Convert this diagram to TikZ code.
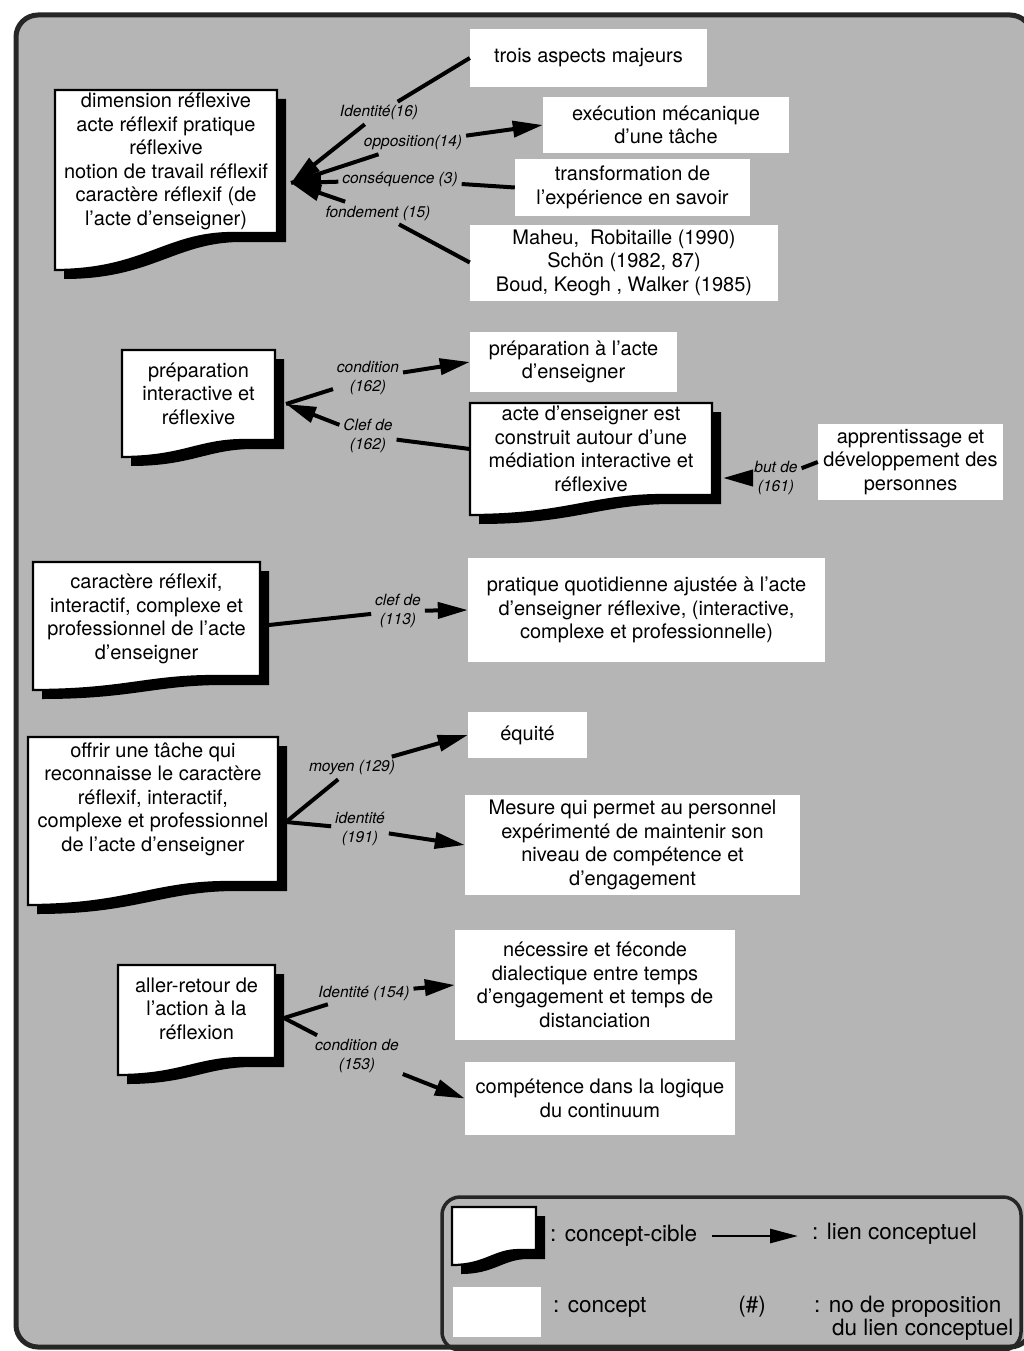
\documentclass[tikz,border=0pt]{standalone}
\usepackage{fontspec}
\setmainfont{TeX Gyre Heros}[Ligatures=ResetAll]
\usetikzlibrary{arrows.meta,calc}
\definecolor{bg}{gray}{0.71}
\newcommand\mainsz{\fontsize{20}{23.5}\selectfont}
\newcommand\labsz{\fontsize{15.5}{19}\selectfont}
\newcommand\legsz{\fontsize{22.5}{25}\selectfont}
% concept-cible shape: x0, y0, x1, y (right bottom, wave top), y (left bottom)
\newcommand\cibleshape[5]{%
  \fill[black,shift={(9,9)}] (#1,#2) -- (#3,#2) -- (#3,#4) -- ({#1+0.8*(#3-#1)},#4)
     .. controls ({#1+0.5*(#3-#1)},#4) and ({#1+0.4*(#3-#1)},#5) .. (#1,#5) -- cycle;
  \filldraw[fill=white,draw=black,line width=2.2pt] (#1,#2) -- (#3,#2) -- (#3,#4) -- ({#1+0.8*(#3-#1)},#4)
     .. controls ({#1+0.5*(#3-#1)},#4) and ({#1+0.4*(#3-#1)},#5) .. (#1,#5) -- cycle;
}
\begin{document}
\begin{tikzpicture}[x=1pt,y=-1pt,
  concept/.style={fill=white, inner sep=0pt, align=center, font=\mainsz},
  ctext/.style={inner sep=0pt, align=center, font=\mainsz},
  lab/.style={inner sep=1pt, outer sep=3pt, align=center, font=\labsz\itshape},
  leg/.style={inner sep=0pt, font=\legsz},
  lnk/.style={line width=4pt},
  arr/.style={lnk, -{Triangle[length=30pt,width=16pt]}},
  legarr/.style={line width=2.8pt, -{Triangle[length=28pt,width=14pt]}},
  sz/.style 2 args={minimum width=#1pt, minimum height=#2pt}]
\useasboundingbox (0,0) rectangle (1023,1351);
\fill[white] (0,0) rectangle (1023,1351);
% outer frame
\draw[fill=bg, line width=5pt, draw=black!85, rounded corners=22pt] (16,15) rectangle (1032,1347);

% ---------- section 1 ----------
\cibleshape{55}{90}{277}{233}{270}
\node[ctext, sz={222}{143}] (c1) at (166,161.5) {dimension réflexive\\acte réflexif pratique\\réflexive\\notion de travail réflexif\\caractère réflexif (de\\l'acte d'enseigner)};
\coordinate (c1p) at (291,183);
\node[concept, sz={237}{58}] (t1) at (588.5,58) {trois aspects majeurs};
\node[concept, sz={246}{56}] (t2) at (666,125) {exécution mécanique\\d'une tâche};
\node[concept, sz={235}{56}] (t3) at (632.5,187.5) {transformation de\\l'expérience en savoir};
\node[concept, sz={308}{76}] (t4) at (624,262.5) {Maheu,~ Robitaille (1990)\\Schön (1982, 87)\\Boud, Keogh , Walker (1985)};
\node[lab] (l1) at (379,113) {Identité(16)};
\node[lab] (l2) at (413,143) {opposition(14)};
\node[lab] (l3) at (400,180) {conséquence (3)};
\node[lab] (l4) at (378,213) {fondement (15)};
\draw[lnk] (t1.west) -- (l1); \draw[arr] (l1) -- (c1p);
\draw[lnk] (c1p) -- (l2); \draw[arr] (l2) -- (t2.west);
\draw[lnk] (t3.west) -- (l3); \draw[arr] (l3) -- (c1p);
\draw[lnk] (t4.west) -- (l4); \draw[arr] (l4) -- (c1p);

% ---------- section 2 ----------
\cibleshape{122}{350}{275}{440}{457}
\node[ctext, sz={153}{87}] (c2) at (198.5,393.5) {préparation\\interactive et\\réflexive};
\coordinate (c2p) at (286,404);
\cibleshape{470}{403}{712}{495}{515}
\node[ctext, sz={242}{92}] (c3) at (591,449) {acte d'enseigner est\\construit autour d'une\\médiation interactive et\\réflexive};
\coordinate (c3p) at (723,478);
\node[concept, sz={207}{60}] (t5) at (573.5,362) {préparation à l'acte\\d'enseigner};
\node[concept, sz={185}{76}] (t6) at (910.5,462) {apprentissage et\\développement des\\personnes};
\node[lab] (l5) at (368,378) {condition\\(162)};
\node[lab] (l6) at (368,436) {Clef de\\(162)};
\node[lab] (l7) at (776,478) {but de\\(161)};
\draw[lnk] (c2p) -- (l5); \draw[arr] (l5) -- (t5.west);
\draw[lnk] (c3.west) -- (l6); \draw[arr] (l6) -- (c2p);
\draw[lnk] (t6.west) -- (l7); \draw[arr] (l7) -- (c3p);

% ---------- section 3 ----------
\cibleshape{33}{562}{260}{676}{690}
\node[ctext, sz={227}{114}] (c4) at (146.5,619) {caractère réflexif,\\interactif, complexe et\\professionnel de l'acte\\d'enseigner};
\coordinate (c4p) at (269,625);
\node[concept, sz={357}{104}] (t7) at (646.5,610) {pratique quotidienne ajustée à l'acte\\d'enseigner réflexive, (interactive,\\complexe et professionnelle)};
\node[lab] (l8) at (398,611) {clef de\\(113)};
\draw[lnk] (c4p) -- (l8); \draw[arr] (l8) -- (t7.west);

% ---------- section 4 ----------
\cibleshape{28}{737}{278}{882}{905}
\node[ctext, sz={250}{124}] (c5) at (153,799) {offrir une tâche qui\\reconnaisse le caractère\\réflexif, interactif,\\complexe et professionnel\\de l'acte d'enseigner};
\coordinate (c5p) at (286,822);
\node[concept, sz={119}{46}] (t8) at (527.5,735) {équité};
\node[concept, sz={335}{100}] (t9) at (632.5,845) {Mesure qui permet au personnel\\expérimenté de maintenir son\\niveau de compétence et\\d'engagement};
\node[lab] (l9) at (352,768) {moyen (129)};
\node[lab] (l10) at (360,829) {identité\\(191)};
\draw[lnk] (c5p) -- (l9); \draw[arr] (l9) -- (t8.west);
\draw[lnk] (c5p) -- (l10); \draw[arr] (l10) -- (t9.west);

% ---------- section 5 ----------
\cibleshape{118}{965}{275}{1058}{1075}
\node[ctext, sz={157}{87}] (c6) at (196.5,1008.5) {aller-retour de\\l'action à la\\réflexion};
\coordinate (c6p) at (284,1018);
\node[concept, sz={280}{110}] (t10) at (595,985) {nécessire et féconde\\dialectique entre temps\\d'engagement et temps de\\distanciation};
\node[concept, sz={270}{73}] (t11) at (600,1098.5) {compétence dans la logique\\du continuum};
\node[lab] (l11) at (364,993) {Identité (154)};
\node[lab] (l12) at (357,1056) {condition de\\(153)};
\draw[lnk] (c6p) -- (l11); \draw[arr] (l11) -- (t10.west);
\draw[lnk] (c6p) -- (l12); \draw[arr] (l12) -- (t11.west);

% ---------- legend ----------
\draw[line width=3.5pt, draw=black!85, rounded corners=18pt] (442,1197) rectangle (1021,1350);
\cibleshape{452}{1207}{536}{1250}{1265}
\node[sz={84}{43}, inner sep=0pt] (lg0) at (494,1228.5) {};
\node[leg, anchor=west] (lg1) at (550,1236) {: concept-cible};
\coordinate (la) at (712,1236);
\coordinate (lb) at (798,1236);
\draw[legarr] (la) -- (lb);
\node[leg, anchor=west] (lg2) at (812,1234) {: lien conceptuel};
\node[fill=white, sz={88}{50}, inner sep=0pt] (lg3) at (497,1312) {};
\node[leg, anchor=west] (lg4) at (553,1307) {: concept};
\node[leg] (lg5) at (752,1307) {(\#)};
\node[leg, anchor=west] (lg6) at (814,1307) {: no de proposition};
\node[leg, anchor=west] (lg7) at (832,1330) {du lien conceptuel};
\end{tikzpicture}
\end{document}
